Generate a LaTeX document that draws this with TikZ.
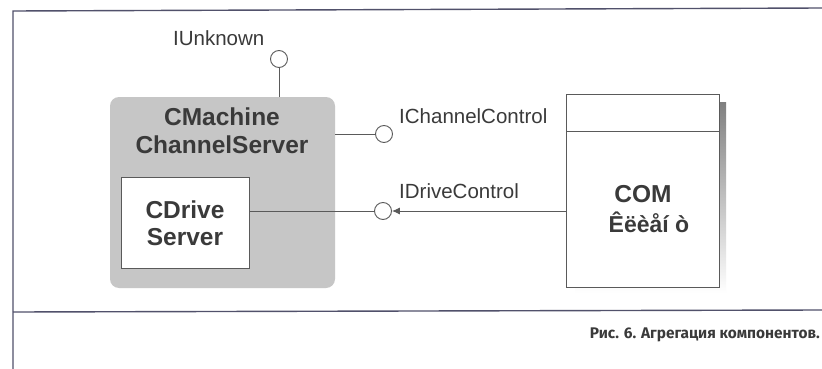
\documentclass[tikz,border=0pt]{standalone}
\usepackage{fontspec}
\setmainfont{Liberation Sans}
\newfontfamily\capfont{Fira Sans}
\usetikzlibrary{arrows.meta,calc}
\definecolor{ink}{HTML}{3A3A3A}
\definecolor{edge}{HTML}{5A5A5A}
\definecolor{panel}{HTML}{C6C6C6}
\definecolor{shade}{HTML}{B4B4B4}
\tikzset{
  frameline/.style={draw=edge!90!blue, line width=1.4pt},
  boldtxt/.style={font=\fontsize{24.5}{28}\selectfont\bfseries, text=ink, inner sep=0pt, anchor=base},
  iftxt/.style={font=\fontsize{20.5}{24}\selectfont, text=ink, inner sep=0pt, anchor=base west},
  lollipop/.style={circle, draw=edge, line width=0.9pt, fill=white, minimum size=17pt, inner sep=0pt},
  wire/.style={draw=edge, line width=0.9pt},
  classbox/.style={rectangle, draw=edge, line width=0.9pt, fill=white, inner sep=0pt}
}
\begin{document}
\begin{tikzpicture}[x=1pt, y=-1pt]
\useasboundingbox (0,0) rectangle (822,369);
\fill[white] (0,0) rectangle (822,369);

% frame of the figure
\coordinate (ftl) at (13,11);
\coordinate (ftr) at (822,8);
\coordinate (fbl) at (13,312);
\coordinate (fbr) at (822,310);
\coordinate (fbot) at (13,369);
\draw[frameline] (ftr) -- (ftl) -- (fbot);
\draw[frameline] (fbl) -- (fbr);

% aggregating component
\node[rectangle, rounded corners=9pt, fill=panel, minimum width=225pt, minimum height=191pt, inner sep=0pt] (outer) at (222.5,192.5) {};
\node[boldtxt] (t1) at (222,125) {CMachine};
\node[boldtxt] (t2) at (222,153) {ChannelServer};

% inner component
\node[classbox, minimum width=128pt, minimum height=91pt] (inner) at (185,222.5) {};
\node[boldtxt] (d1) at (185,218) {CDrive};
\node[boldtxt] (d2) at (185,245) {Server};

% COM client with shadow
\fill[shade] (575,102) rectangle (726,293);
\node[classbox, minimum width=153pt, minimum height=193pt] (com) at (642.5,190.5) {};
\coordinate (divl) at (566,131);
\coordinate (divr) at (719,131);
\draw[wire] (divl) -- (divr);
\node[boldtxt] (c1) at (643,202) {COM};
\node[boldtxt, font=\fontsize{23}{28}\selectfont\bfseries] (c2) at (649,232) {Êëèåí ò};

% interfaces
\node[lollipop] (unk) at (279,59) {};
\node[lollipop] (cc) at (384,134) {};
\node[lollipop] (dc) at (383,211) {};
\draw[wire] (unk.south) -- (unk.south |- outer.north);
\draw[wire] (outer.east |- cc) -- (cc.west);
\draw[wire] (inner.east |- dc) -- (dc.west);
\draw[wire, -{Latex[length=8pt,width=7pt]}] (com.west |- dc) -- (dc.east);

\node[iftxt] (lunk) at (173,46) {IUnknown};
\node[iftxt] (lcc) at (399,123) {IChannelControl};
\node[iftxt] (ldc) at (399,198) {IDriveControl};

% caption
\node[font=\capfont\fontsize{15.4}{18}\selectfont\bfseries, text=ink, inner sep=0pt, anchor=base east] (cap) at (820,338) {Рис. 6. Агрегация компонентов.};
\end{tikzpicture}
\end{document}
